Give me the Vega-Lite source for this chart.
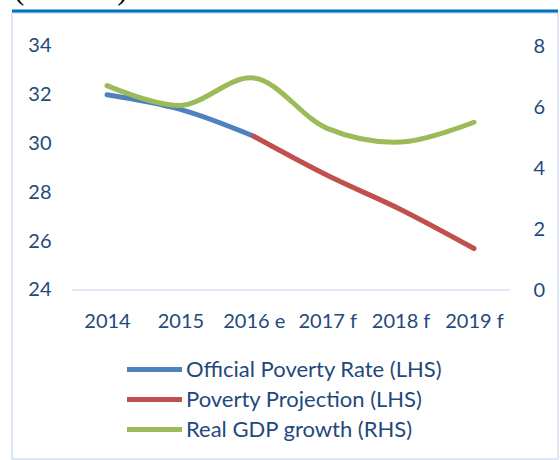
{
  "$schema": "https://vega.github.io/schema/vega-lite/v6.json",
  "width": 546,
  "height": 446,
  "autosize": {"type": "none"},
  "padding": {"left": 12, "top": 13, "right": 2, "bottom": 1},
  "background": "white",
  "config": {
    "view": {"stroke": "#DCE6F4", "strokeWidth": 2},
    "font": "Lato"
  },
  "title": {
    "text": "(Percent)",
    "font": "Liberation Serif",
    "fontSize": 31,
    "fontWeight": "normal",
    "color": "#000000",
    "anchor": "start",
    "frame": "group",
    "baseline": "alphabetic",
    "offset": -21,
    "dx": 2
  },
  "data": {
    "values": [
      {"year": "2014", "series": "Official Poverty Rate (LHS)", "value": 32.0},
      {"year": "2015", "series": "Official Poverty Rate (LHS)", "value": 31.4},
      {"year": "2016 e", "series": "Official Poverty Rate (LHS)", "value": 30.3},
      {"year": "2016 e", "series": "Poverty Projection (LHS)", "value": 30.3},
      {"year": "2017 f", "series": "Poverty Projection (LHS)", "value": 28.7},
      {"year": "2018 f", "series": "Poverty Projection (LHS)", "value": 27.3},
      {"year": "2019 f", "series": "Poverty Projection (LHS)", "value": 25.7},
      {"year": "2014", "series": "Real GDP growth (RHS)", "value": 6.7},
      {"year": "2015", "series": "Real GDP growth (RHS)", "value": 6.05},
      {"year": "2016 e", "series": "Real GDP growth (RHS)", "value": 6.95},
      {"year": "2017 f", "series": "Real GDP growth (RHS)", "value": 5.3},
      {"year": "2018 f", "series": "Real GDP growth (RHS)", "value": 4.85},
      {"year": "2019 f", "series": "Real GDP growth (RHS)", "value": 5.5}
    ]
  },
  "layer": [
    {
      "transform": [{"filter": "datum.year === '2014' && datum.series === 'Official Poverty Rate (LHS)'"}],
      "mark": {"type": "rule", "color": "#0070C0", "strokeWidth": 3},
      "encoding": {
        "y": {"datum": 35.434, "type": "quantitative", "axis": null,
          "scale": {"domain": [17.074, 35.352], "nice": false, "zero": false}}
      }
    },
    {
      "transform": [{"filter": "datum.year === '2014' && datum.series === 'Official Poverty Rate (LHS)'"}],
      "mark": {"type": "rule", "color": "#D6E2F3", "strokeWidth": 1.5, "xOffset": -35, "x2Offset": 36},
      "encoding": {
        "x": {"datum": "2014", "type": "ordinal", "axis": null,
          "scale": {"type": "point", "domain": ["2014", "2015", "2016 e", "2017 f", "2018 f", "2019 f"], "range": [95, 462], "padding": 0}},
        "x2": {"datum": "2019 f"},
        "y": {"datum": 24, "type": "quantitative", "axis": null,
          "scale": {"domain": [17.074, 35.352], "nice": false, "zero": false}}
      }
    },
    {
      "transform": [{"filter": "datum.series !== 'Real GDP growth (RHS)'"}],
      "mark": {"type": "line", "strokeWidth": 5, "strokeCap": "round", "interpolate": "catmull-rom"},
      "encoding": {
        "x": {"field": "year", "type": "ordinal",
          "scale": {"type": "point", "domain": ["2014", "2015", "2016 e", "2017 f", "2018 f", "2019 f"], "range": [95, 462], "padding": 0},
          "axis": {"orient": "bottom", "title": null, "domain": false, "ticks": false, "tickSize": 0, "labelAngle": 0, "grid": false,
            "labelFont": "Lato", "labelFontSize": 20, "labelColor": "#1F497D", "offset": -148, "labelPadding": 0}},
        "y": {"field": "value", "type": "quantitative",
          "scale": {"domain": [17.074, 35.352], "nice": false, "zero": false},
          "axis": {"orient": "left", "values": [24, 26, 28, 30, 32, 34], "title": null, "domain": false, "ticks": false, "tickSize": 0, "grid": false,
            "labelFont": "Lato", "labelFontSize": 20, "labelColor": "#1F497D", "offset": -39, "labelPadding": 0}},
        "color": {"field": "series", "type": "nominal",
          "scale": {"domain": ["Official Poverty Rate (LHS)", "Poverty Projection (LHS)", "Real GDP growth (RHS)"], "range": ["#4F81BD", "#C0504D", "#9BBB59"]},
          "legend": {"orient": "none", "legendX": 130, "legendY": 344, "title": null,
            "symbolType": "M-2.75,0H2.75", "symbolSize": 400, "symbolStrokeWidth": 5,
            "labelFont": "Lato", "labelFontSize": 22, "labelColor": "#1F497D", "rowPadding": 6, "labelOffset": 19, "labelLimit": 400}}
      }
    },
    {
      "transform": [{"filter": "datum.series === 'Real GDP growth (RHS)'"}],
      "mark": {"type": "line", "strokeWidth": 5, "strokeCap": "round", "interpolate": "catmull-rom"},
      "encoding": {
        "x": {"field": "year", "type": "ordinal",
          "scale": {"type": "point", "domain": ["2014", "2015", "2016 e", "2017 f", "2018 f", "2019 f"], "range": [95, 462], "padding": 0},
          "axis": null},
        "y": {"field": "value", "type": "quantitative",
          "scale": {"domain": [-5.541, 9.082], "nice": false, "zero": false},
          "axis": {"orient": "right", "values": [0, 2, 4, 6, 8], "title": null, "domain": false, "ticks": false, "tickSize": 0, "grid": false,
            "labelFont": "Lato", "labelFontSize": 20, "labelColor": "#1F497D", "offset": -25, "labelPadding": 0}},
        "color": {"field": "series", "type": "nominal"}
      }
    }
  ],
  "resolve": {"scale": {"y": "independent"}, "axis": {"x": "independent", "y": "independent"}}
}
